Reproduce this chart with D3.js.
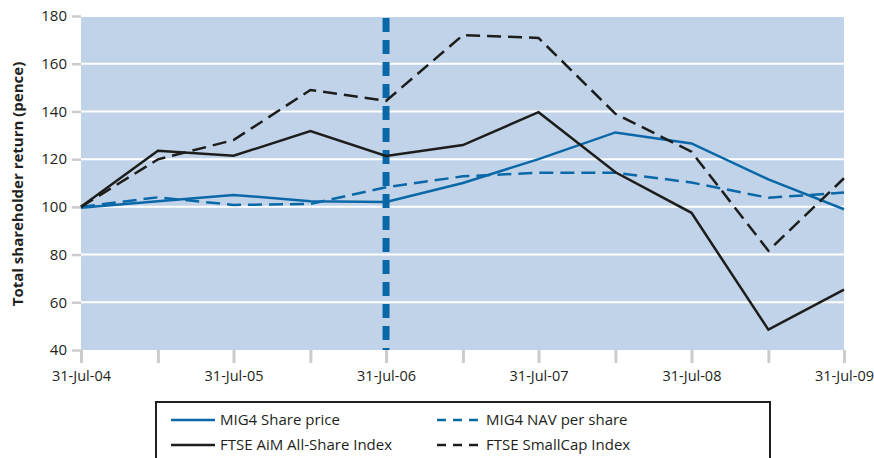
<!DOCTYPE html>
<html>
<head>
<meta charset="utf-8">
<script src="https://cdn.jsdelivr.net/npm/d3@7"></script>
<style>
  body { margin: 0; background: #fff; }
  text { font-family: "Open Sans", "Noto Sans", sans-serif; fill: #231f20; }
</style>
</head>
<body>
<svg id="chart" width="874" height="458"></svg>
<script>
// *** Data ***
var dates = ["2004-07-31", "2005-01-31", "2005-07-31", "2006-01-31", "2006-07-31", "2007-01-31",
             "2007-07-31", "2008-01-31", "2008-07-31", "2009-01-31", "2009-07-31"];
var sharePrice = [99.6, 102.3, 105, 102.4, 102, 110, 120, 131.2, 126.6, 111.5, 99];
var navPerShare = [100, 104, 100.8, 101.2, 108.2, 112.8, 114.3, 114.3, 110.2, 103.8, 106];
var ftseAim = [100, 123.5, 121.4, 131.8, 121.3, 125.9, 139.7, 114.5, 97.5, 48.5, 65.3];
var ftseSmallCap = [100, 119.9, 128, 149, 144.4, 172, 170.8, 139, 123.1, 81.6, 112];
var yTicks = [40, 60, 80, 100, 120, 140, 160, 180];
var markerDate = "2006-07-31";

var seriesNames = ["MIG4 Share price", "MIG4 NAV per share", "FTSE AiM All-Share Index", "FTSE SmallCap Index"];

var parse = d3.timeParse("%Y-%m-%d");
var fmt = d3.timeFormat("%d-%b-%y");

var series = [
    {name: seriesNames[0], values: sharePrice, color: "#0b68a8", dash: null},
    {name: seriesNames[1], values: navPerShare, color: "#0b68a8", dash: "14,7"},
    {name: seriesNames[2], values: ftseAim, color: "#1d1d1b", dash: null},
    {name: seriesNames[3], values: ftseSmallCap, color: "#1d1d1b", dash: "14,7"}
];

// *** Chart ***
var svg = d3.select("#chart");
var margin = {top: 16, right: 30, bottom: 108, left: 81},
    width = 844 - margin.left,
    height = 350 - margin.top;

var x = d3.scaleTime()
    .domain([parse(dates[0]), parse(dates[dates.length - 1])])
    .range([0, width]);
var y = d3.scaleLinear().domain([40, 180]).range([height, 0]);

var g = svg.append("g").attr("transform", "translate(" + margin.left + "," + margin.top + ")");

g.append("rect")
    .attr("width", width)
    .attr("height", height)
    .attr("fill", "#c0d3e8");

// gridlines
g.selectAll(".grid").data(yTicks.slice(1)).enter().append("line")
    .attr("class", "grid")
    .attr("x1", 0).attr("x2", width)
    .attr("y1", d => y(d)).attr("y2", d => y(d))
    .attr("stroke", "#fff")
    .attr("stroke-width", 2);

// y axis
var yAxis = d3.axisLeft(y).tickValues(yTicks).tickSize(9).tickPadding(5);
var yAxisG = g.append("g").call(yAxis);
yAxisG.select(".domain").remove();
yAxisG.selectAll(".tick line").attr("stroke", "#cccccc").attr("stroke-width", 2.5);
yAxisG.selectAll(".tick text").attr("font-size", 15).attr("fill", "#231f20").attr("font-family", "Open Sans");

// x axis
var xAxis = d3.axisBottom(x)
    .tickValues(dates.map(parse))
    .tickSize(13)
    .tickPadding(8)
    .tickFormat((d, i) => i % 2 === 0 ? fmt(d) : "");
var xAxisG = g.append("g").attr("transform", "translate(0," + height + ")").call(xAxis);
xAxisG.select(".domain").remove();
xAxisG.selectAll(".tick line").attr("stroke", "#cccccc").attr("stroke-width", 3);
xAxisG.selectAll(".tick text").attr("font-size", 14.5).attr("fill", "#231f20").attr("font-family", "Open Sans");

// marker line at 31-Jul-06
g.append("line")
    .attr("x1", x(parse(markerDate))).attr("x2", x(parse(markerDate)))
    .attr("y1", 2).attr("y2", height)
    .attr("stroke", "#0b68a8")
    .attr("stroke-width", 7)
    .attr("stroke-dasharray", "14,8");

// series lines
var lineMaker = d3.line()
    .x((d, i) => x(parse(dates[i])))
    .y(d => y(d));

g.selectAll(".series").data(series).enter().append("path")
    .attr("class", "series")
    .attr("fill", "none")
    .attr("stroke", d => d.color)
    .attr("stroke-width", 2.5)
    .attr("stroke-dasharray", d => d.dash)
    .attr("d", d => lineMaker(d.values));

// y axis title
svg.append("text")
    .attr("transform", "translate(23,184) rotate(-90)")
    .attr("text-anchor", "middle")
    .attr("font-size", 15)
    .attr("font-weight", "bold")
    .text("Total shareholder return (pence)");

// legend
var legend = svg.append("g").attr("transform", "translate(156,402)");
legend.append("rect")
    .attr("width", 614)
    .attr("height", 70)
    .attr("fill", "#fff")
    .attr("stroke", "#231f20")
    .attr("stroke-width", 2);

var legendItems = legend.selectAll(".legend-item").data(series).enter().append("g")
    .attr("class", "legend-item")
    .attr("transform", (d, i) => "translate(" + (i % 2 === 0 ? 15 : 281) + "," + (i < 2 ? 18 : 43) + ")");

legendItems.append("line")
    .attr("x1", 0).attr("x2", 44)
    .attr("stroke", d => d.color)
    .attr("stroke-width", 2.5)
    .attr("stroke-dasharray", d => d.dash ? "9,7" : null);

legendItems.append("text")
    .attr("x", 49)
    .attr("dy", "0.35em")
    .attr("font-size", 15)
    .text(d => d.name);
</script>
</body>
</html>
